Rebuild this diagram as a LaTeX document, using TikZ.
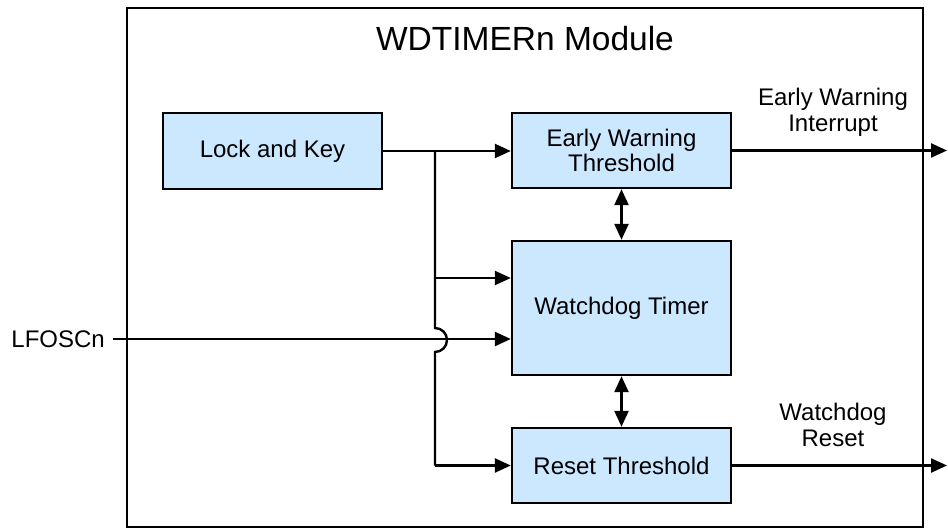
\documentclass[tikz,border=0pt]{standalone}
\usepackage{fontspec}
\setmainfont{Liberation Sans}
\usetikzlibrary{arrows.meta}
\definecolor{boxblue}{RGB}{204,232,255}
\begin{document}
\begin{tikzpicture}[x=1pt,y=1pt,
  lbl/.style={font=\fontsize{24}{26}\selectfont, align=center, inner sep=0pt},
  blk/.style={draw, line width=2.4pt, fill=boxblue, minimum width=219pt, align=center, inner sep=0pt, font=\fontsize{24}{25.5}\selectfont},
  conn/.style={line width=2.4pt},
  arr/.style={conn, -{Triangle[length=16pt,width=14pt]}},
  darr/.style={conn, {Triangle[length=16pt,width=14pt]}-{Triangle[length=16pt,width=14pt]}}
]
\useasboundingbox (0,0) rectangle (948,-529);
% module frame
\node[draw, line width=2.4pt, minimum width=796pt, minimum height=519pt, inner sep=0pt] (module) at (525,-267.5) {};
\node[lbl, font=\fontsize{33.5}{36}\selectfont] (title) at (525,-39) {WDTIMERn Module};
% blocks
\node[blk, minimum height=76pt] (lock) at (272.5,-151) {Lock and Key};
\node[blk, minimum height=75pt] (ewt) at (621.5,-150.5) {Early Warning\\Threshold};
\node[blk, minimum height=134pt] (wdt) at (621.5,-308) {Watchdog Timer};
\node[blk, minimum height=75pt] (rst) at (621.5,-465.5) {Reset Threshold};
% input label
\node[lbl, anchor=east] (lfosc) at (105,-339) {LFOSCn};
% output labels
\node[lbl] (ewi) at (833,-112) {Early Warning\\Interrupt};
\node[lbl] (wdr) at (833,-425) {Watchdog\\Reset};
% bus coordinates
\coordinate (bustop) at (435,-151);
\coordinate (busmid) at (435,-278);
\coordinate (hoptop) at (435,-328);
\coordinate (busbot) at (435,-465.5);
\coordinate (out1) at (947,-150.5);
\coordinate (out2) at (947,-465.5);
% connectors
\draw[arr] (lock.east) -- (lock.east -| ewt.west);
\draw[conn] (bustop) -- (hoptop) arc[start angle=90, end angle=-90, radius=12] -- (busbot);
\draw[arr] (busmid) -- (busmid -| wdt.west);
\draw[arr] (busbot) -- (rst.west);
\draw[arr] (lfosc.east) ++(8,0) coordinate (lfstart) (lfstart) -- (lfstart -| wdt.west);
\draw[darr] (ewt.south) -- (wdt.north);
\draw[darr] (wdt.south) -- (rst.north);
\draw[arr] (ewt.east) -- (out1);
\draw[arr] (rst.east) -- (out2);
\end{tikzpicture}
\end{document}
